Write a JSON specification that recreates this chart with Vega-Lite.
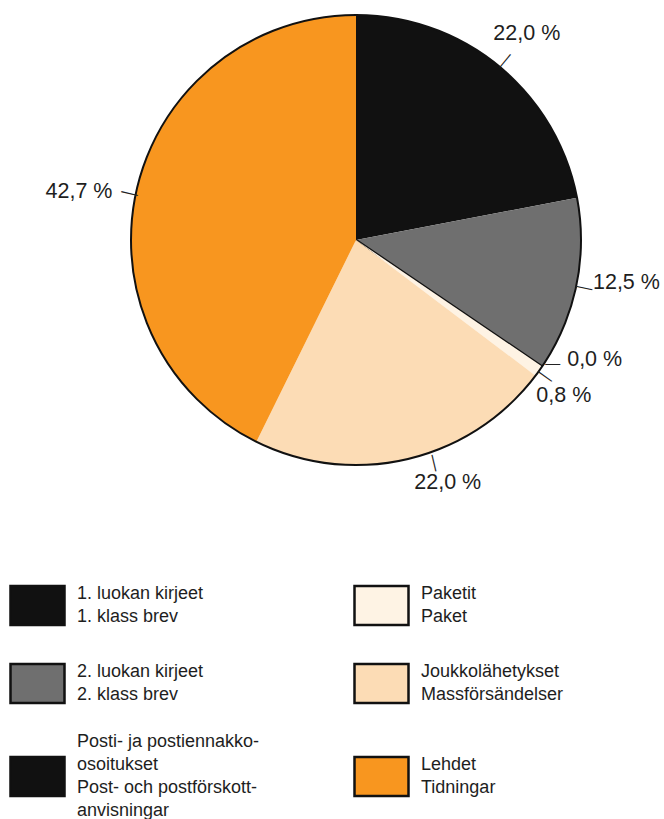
{
  "$schema": "https://vega.github.io/schema/vega-lite/v6.json",
  "width": 616,
  "height": 480,
  "autosize": {"type": "none"},
  "padding": {"left": 48, "top": 0, "right": 0, "bottom": 339},
  "background": "white",
  "config": {"view": {"stroke": null}, "text": {"font": "Liberation Sans"}},
  "data": {
    "values": [
      {"category": "1. luokan kirjeet|1. klass brev", "share": 22.0},
      {"category": "2. luokan kirjeet|2. klass brev", "share": 12.5},
      {"category": "Posti- ja postiennakko-|osoitukset|Post- och postförskott-|anvisningar", "share": 0.0},
      {"category": "Paketit|Paket", "share": 0.8},
      {"category": "Joukkolähetykset|Massförsändelser", "share": 22.0},
      {"category": "Lehdet|Tidningar", "share": 42.7}
    ]
  },
  "transform": [
    {"window": [{"op": "row_number", "as": "rank"}]},
    {"window": [{"op": "sum", "field": "share", "as": "cum"}], "sort": [{"field": "rank"}], "frame": [null, 0]},
    {"calculate": "datum.cum - datum.share / 2", "as": "mid"},
    {"calculate": "datum.mid * 3.6 - 90", "as": "tickAngle"},
    {"calculate": "replace(format(datum.share, '.1f'), '.', ',') + ' %'", "as": "lbl"}
  ],
  "layer": [
    {
      "mark": {"type": "arc", "radius": 225, "stroke": "#111111"},
      "encoding": {
        "theta": {"field": "share", "type": "quantitative", "stack": true, "scale": {"domain": [0, 100]}},
        "order": {"field": "rank", "type": "quantitative"},
        "color": {
          "field": "category",
          "type": "nominal",
          "scale": {
            "domain": [
              "1. luokan kirjeet|1. klass brev",
              "2. luokan kirjeet|2. klass brev",
              "Posti- ja postiennakko-|osoitukset|Post- och postförskott-|anvisningar",
              "Paketit|Paket",
              "Joukkolähetykset|Massförsändelser",
              "Lehdet|Tidningar"
            ],
            "range": ["#111111", "#6f6f6f", "#111111", "#fef3e4", "#fcdcb5", "#f8961f"]
          },
          "legend": {
            "title": null,
            "orient": "none",
            "legendX": -39,
            "legendY": 577,
            "columns": 2,
            "columnPadding": 89,
            "rowPadding": 25,
            "padding": 0,
            "symbolType": "M-1,-0.72L1,-0.72L1,0.72L-1,0.72Z",
            "symbolSize": 2916,
            "symbolStrokeColor": "#111111",
            "symbolStrokeWidth": 2.5,
            "symbolOpacity": 1,
            "labelFont": "Liberation Sans",
            "labelFontSize": 18,
            "labelColor": "#1e1e1e",
            "labelOffset": 11,
            "labelLimit": 0,
            "labelExpr": "split(datum.label, '|')",
            "encode": {
              "labels": {
                "update": {
                  "lineHeight": {"value": 23},
                  "dy": {"signal": "-11.5 * (length(split(datum.label, '|')) - 1)"}
                }
              }
            }
          }
        },
        "strokeWidth": {"condition": {"test": "datum.share === 0", "value": 2.5}, "value": 0}
      }
    },
    {
      "transform": [{"filter": "datum.rank === 1"}],
      "mark": {"type": "arc", "radius": 225, "theta": 0, "theta2": 6.2832, "filled": false, "stroke": "#111111", "strokeWidth": 2},
      "encoding": {}
    },
    {
      "transform": [{"filter": "datum.rank === 1 || datum.rank === 2 || datum.rank === 4"}],
      "mark": {"type": "text", "radius": 233, "text": "—", "fontSize": 17, "color": "#222222", "align": "center", "baseline": "middle"},
      "encoding": {
        "theta": {"field": "mid", "type": "quantitative", "stack": null},
        "angle": {"field": "tickAngle", "type": "quantitative", "scale": null}
      }
    },
    {
      "transform": [{"filter": "datum.rank === 3"}],
      "mark": {"type": "text", "radius": 233, "text": "—", "fontSize": 15, "color": "#222222", "align": "center", "baseline": "middle", "angle": 0, "dx": 4, "dy": -8},
      "encoding": {
        "theta": {"field": "mid", "type": "quantitative", "stack": null}
      }
    },
    {
      "transform": [{"filter": "datum.rank === 5"}],
      "mark": {"type": "text", "radius": 233, "text": "—", "fontSize": 17, "color": "#222222", "align": "center", "baseline": "middle", "dx": 2, "dy": -25},
      "encoding": {
        "theta": {"field": "mid", "type": "quantitative", "stack": null},
        "angle": {"field": "tickAngle", "type": "quantitative", "scale": null}
      }
    },
    {
      "transform": [{"filter": "datum.rank === 6"}],
      "mark": {"type": "text", "radius": 233, "text": "—", "fontSize": 17, "color": "#222222", "align": "center", "baseline": "middle", "dx": -2, "dy": -7},
      "encoding": {
        "theta": {"field": "mid", "type": "quantitative", "stack": null},
        "angle": {"field": "tickAngle", "type": "quantitative", "scale": null}
      }
    },
    {
      "transform": [{"filter": "datum.rank === 1"}],
      "mark": {"type": "text", "radius": 268, "fontSize": 21.5, "color": "#1e1e1e", "align": "center", "baseline": "middle"},
      "encoding": {"theta": {"field": "mid", "type": "quantitative", "stack": null}, "text": {"field": "lbl"}}
    },
    {
      "transform": [{"filter": "datum.rank === 2"}],
      "mark": {"type": "text", "radius": 268, "fontSize": 21.5, "color": "#1e1e1e", "align": "center", "baseline": "middle", "dx": 8, "dy": -11},
      "encoding": {"theta": {"field": "mid", "type": "quantitative", "stack": null}, "text": {"field": "lbl"}}
    },
    {
      "transform": [{"filter": "datum.rank === 3"}],
      "mark": {"type": "text", "radius": 268, "fontSize": 21.5, "color": "#1e1e1e", "align": "center", "baseline": "middle", "dx": 17, "dy": -31},
      "encoding": {"theta": {"field": "mid", "type": "quantitative", "stack": null}, "text": {"field": "lbl"}}
    },
    {
      "transform": [{"filter": "datum.rank === 4"}],
      "mark": {"type": "text", "radius": 268, "fontSize": 21.5, "color": "#1e1e1e", "align": "center", "baseline": "middle", "dx": -10, "dy": 0},
      "encoding": {"theta": {"field": "mid", "type": "quantitative", "stack": null}, "text": {"field": "lbl"}}
    },
    {
      "transform": [{"filter": "datum.rank === 5"}],
      "mark": {"type": "text", "radius": 268, "fontSize": 21.5, "color": "#1e1e1e", "align": "center", "baseline": "middle", "dx": 30, "dy": -18},
      "encoding": {"theta": {"field": "mid", "type": "quantitative", "stack": null}, "text": {"field": "lbl"}}
    },
    {
      "transform": [{"filter": "datum.rank === 6"}],
      "mark": {"type": "text", "radius": 268, "fontSize": 21.5, "color": "#1e1e1e", "align": "center", "baseline": "middle", "dx": -16, "dy": 13},
      "encoding": {"theta": {"field": "mid", "type": "quantitative", "stack": null}, "text": {"field": "lbl"}}
    }
  ]
}
